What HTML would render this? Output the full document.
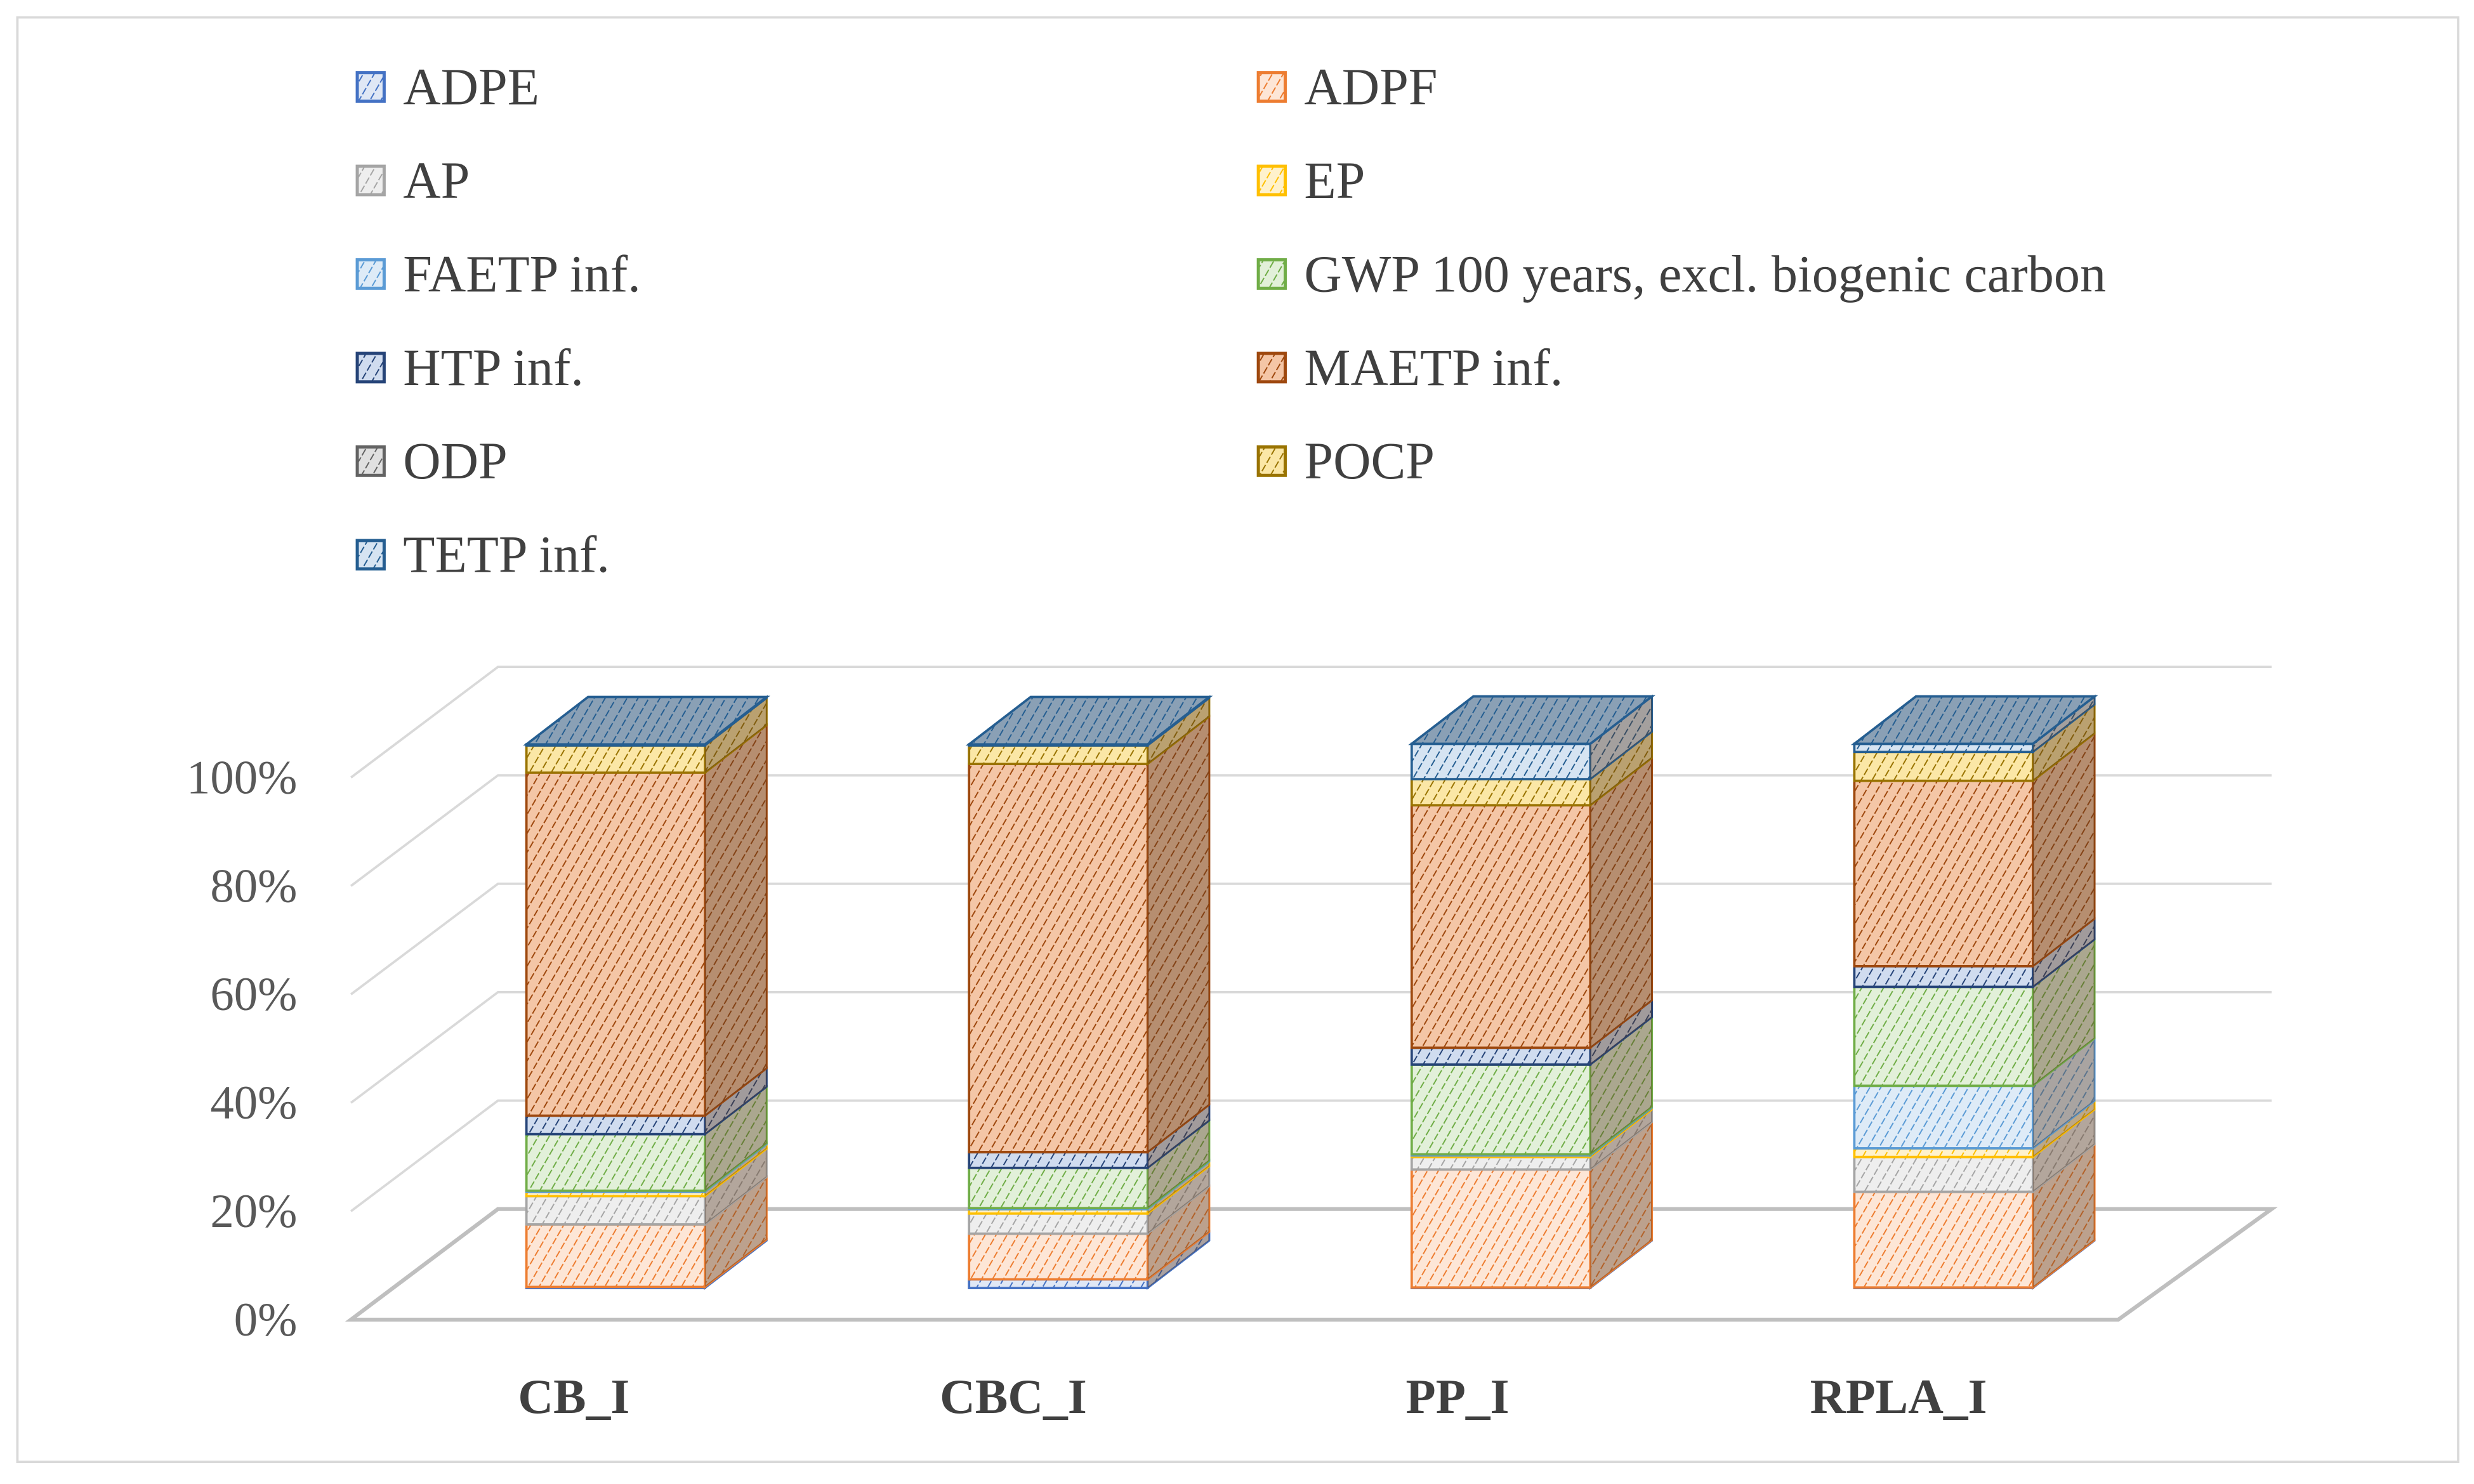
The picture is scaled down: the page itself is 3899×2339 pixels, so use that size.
<!DOCTYPE html>
<html><head><meta charset="utf-8">
<style>
html,body{margin:0;padding:0;background:#fff;}
svg{display:block;}
text{font-family:"Liberation Serif",serif;}
</style></head>
<body>
<svg id="chart" width="3899" height="2339" viewBox="0 0 1565 939" preserveAspectRatio="none" xmlns="http://www.w3.org/2000/svg">
<defs id="defs"></defs>
<rect x="11" y="11" width="1544" height="914" fill="#fff" stroke="#d9d9d9" stroke-width="1.5"/>
<g id="grid"></g>
<g id="yaxis"></g>
<g id="bars"></g>
<g id="xaxis"></g>
<g id="legend"></g>
</svg>
<script>
const categories = ["CB_I","CBC_I","PP_I","RPLA_I"];
const seriesNames = ["ADPE","ADPF","AP","EP","FAETP inf.","GWP 100 years, excl. biogenic carbon","HTP inf.","MAETP inf.","ODP","POCP","TETP inf."];
const ADPE  = [0.2, 1.6, 0.1, 0.1];
const ADPF  = [11.5, 8.4, 21.7, 17.6];
const AP    = [5.2, 3.7, 2.3, 6.4];
const EP    = [0.8, 0.8, 0.3, 1.6];
const FAETP = [0.2, 0.2, 0.2, 11.5];
const GWP   = [10.4, 7.4, 16.5, 18.2];
const HTP   = [3.4, 2.9, 3.1, 3.8];
const MAETP = [63.1, 71.4, 44.6, 34.1];
const ODP   = [0.0, 0.0, 0.0, 0.0];
const POCP  = [5.0, 3.4, 4.8, 5.3];
const TETP  = [0.2, 0.2, 6.5, 1.5];
const yTicks = ["0%","20%","40%","60%","80%","100%"];

const seriesValues = [ADPE,ADPF,AP,EP,FAETP,GWP,HTP,MAETP,ODP,POCP,TETP];
const colors = ["#4472C4","#ED7D31","#A5A5A5","#FFC000","#5B9BD5","#70AD47","#264478","#9E480E","#636363","#997300","#255E91"];
const tints  = ["#dfe7f5","#fde6d6","#eeeeee","#fff2cc","#deebf7","#e2f0d9","#d0dcef","#f4c6a6","#e0e0e0","#fbe7a6","#d6e4f2"];
const NS="http://www.w3.org/2000/svg";
function el(t,a,p){const e=document.createElementNS(NS,t);for(const k in a)e.setAttribute(k,a[k]);if(p)p.appendChild(e);return e;}

const frontBottom=815, frontScale=3.44, dx=39, dy=-30;
const backBottom=765, backScale=3.43;
function yFront(v){return frontBottom - v*frontScale;}
function yBack(v){return backBottom - v*backScale;}
function xBar(i){return 333 + i*280;}
const barW=113;

const defs=document.getElementById('defs');
seriesValues.forEach((s,k)=>{
  const p=el('pattern',{id:'p'+k,width:6,height:6,patternUnits:'userSpaceOnUse',patternTransform:'rotate(30)'},defs);
  el('rect',{width:6,height:6,fill:tints[k]},p);
  el('line',{x1:0,y1:0,x2:0,y2:6,stroke:colors[k],'stroke-width':1.6,'stroke-dasharray':'3 1.5'},p);
});
const tp=el('pattern',{id:'ptop',width:6,height:6,patternUnits:'userSpaceOnUse',patternTransform:'rotate(30)'},defs);
el('rect',{width:6,height:6,fill:'#8aa0b5'},tp);
el('line',{x1:0,y1:0,x2:0,y2:6,stroke:'#255E91','stroke-width':1.6,'stroke-dasharray':'3 1.5'},tp);

const grid=document.getElementById('grid');
const yaxis=document.getElementById('yaxis');
yTicks.forEach((t,i)=>{
  const v=i*20, yb=yBack(v), yf=yb+70;
  if(i>0){
    const g=el('polyline',{points:`222,${yf} 315,${yb} 1437,${yb}`,fill:'none',stroke:'#d9d9d9','stroke-width':1.5},grid);
    
    
  }
  const tx=el('text',{x:188,y:yf+10,'text-anchor':'end','font-size':30,fill:'#595959'},yaxis);
  tx.textContent=t;
  
  
});
const floor=el('polygon',{points:`222,835 315,765 1437,765 1340,835`,fill:'none',stroke:'#bfbfbf','stroke-width':2.5},grid);



const bars=document.getElementById('bars');
categories.forEach((c,i)=>{
  const g=el('g',{},bars);
  
  
  let cum=0; const x=xBar(i);
  seriesValues.forEach((s,k)=>{
    const v=s[i]; if(v<=0) return;
    const y0=yFront(cum), y1=yFront(cum+v); cum+=v;
    const seg=el('g',{},g);
    
    
    el('rect',{x:x,y:y1,width:barW,height:y0-y1,fill:'url(#p'+k+')',stroke:colors[k],'stroke-width':1.5},seg);
    el('polygon',{points:`${x+barW},${y0} ${x+barW+dx},${y0+dy} ${x+barW+dx},${y1+dy} ${x+barW},${y1}`,fill:'url(#p'+k+')',stroke:colors[k],'stroke-width':1.2},seg);
    el('polygon',{points:`${x+barW},${y0} ${x+barW+dx},${y0+dy} ${x+barW+dx},${y1+dy} ${x+barW},${y1}`,fill:'#5a3a20','fill-opacity':0.4},seg);
  });
  const yt=yFront(cum);
  const top=el('polygon',{points:`${x},${yt} ${x+dx},${yt+dy} ${x+barW+dx},${yt+dy} ${x+barW},${yt}`,fill:'url(#ptop)',stroke:'#255E91','stroke-width':1.5},g);
  
  
});

const xaxis=document.getElementById('xaxis');
const labelX=[363,641,922,1201];
categories.forEach((c,i)=>{
  const t=el('text',{x:labelX[i],y:894,'text-anchor':'middle','font-size':31,'font-weight':'bold',fill:'#404040'},xaxis);
  t.textContent=c;
  
  
});

const legend=document.getElementById('legend');
seriesNames.forEach((n,k)=>{
  const col=k%2, row=Math.floor(k/2);
  const x= col? 795:225, y=55+row*59.2;
  const g=el('g',{},legend);
  
  
  el('rect',{x:x+1,y:y-9,width:17,height:18,fill:'url(#p'+k+')',stroke:colors[k],'stroke-width':2},g);
  const t=el('text',{x:x+30,y:y+11,'font-size':33,fill:'#404040'},g);
  t.textContent=n;
});
</script>
</body></html>
